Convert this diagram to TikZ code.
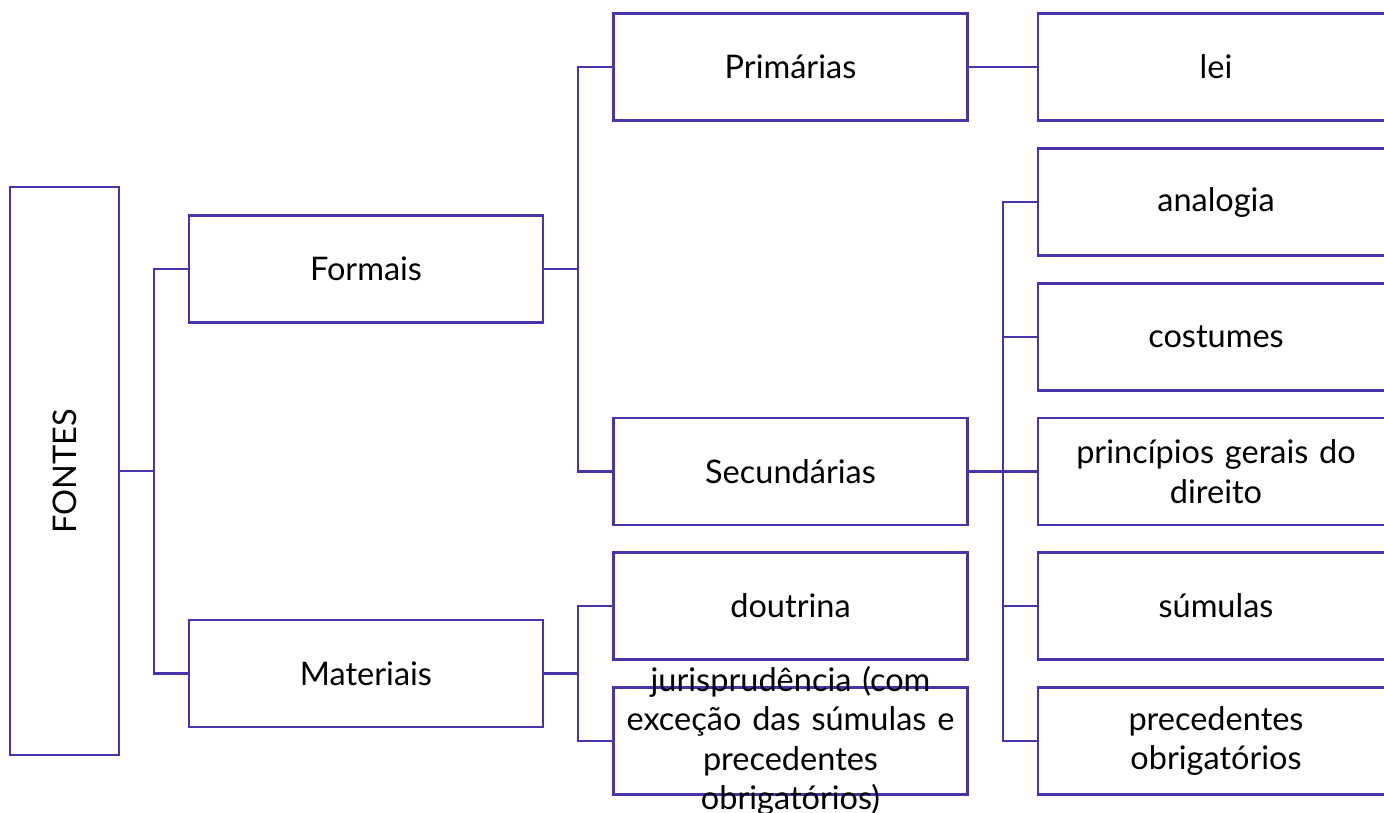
\documentclass[tikz,border=0pt]{standalone}
\usepackage{fontspec}
\setmainfont{Lato}
\definecolor{edge}{RGB}{72,52,170}
\begin{document}
\begin{tikzpicture}[x=1pt,y=-1pt,
  txt/.style={inner sep=0pt,align=center,text width=340pt,font=\fontsize{32.5}{39.5}\selectfont},
  box/.style={txt,draw=edge,line width=2.8pt,rectangle,minimum width=354pt,minimum height=107pt},
  rbox/.style={box,minimum width=356pt},
  conn/.style={draw=edge,line width=2.8pt}]
\useasboundingbox (0,0) rectangle (1384,813);
\node[box,minimum width=109pt,minimum height=568pt,text width=100pt] (fontes) at (64.5,471) {\rotatebox{90}{FONTES}};
\node[box] (formais) at (366,269) {Formais};
\node[box] (materiais) at (366,673.5) {Materiais};
\node[box] (prim) at (790.5,67) {Primárias};
\node[box] (sec) at (790.5,471.5) {Secundárias};
\node[box] (dout) at (790.5,606) {doutrina};
\node[box] (juris) at (790.5,741) {};
\node[txt] (juristxt) at (juris.center) {jurisprudência (com\\exceção das súmulas e\\precedentes\\obrigatórios)};
\node[rbox] (lei) at (1216,67) {lei};
\node[rbox] (anal) at (1216,202) {analogia};
\node[rbox] (cost) at (1216,337) {costumes};
\node[rbox] (princ) at (1216,471.5) {princípios gerais do\\direito};
\node[rbox] (sum) at (1216,606) {súmulas};
\node[rbox] (prec) at (1216,741) {precedentes\\obrigatórios};
\coordinate (j1) at (154,471);
\coordinate (j2) at (578,269);
\coordinate (j3) at (578,673.5);
\coordinate (j4) at (1003,471.5);
\draw[conn] (fontes.east) -- (j1) |- (formais.west);
\draw[conn] (j1) |- (materiais.west);
\draw[conn] (formais.east) -- (j2) |- (prim.west);
\draw[conn] (j2) |- (sec.west);
\draw[conn] (materiais.east) -- (j3) |- (dout.west);
\draw[conn] (j3) |- (juris.west);
\draw[conn] (prim.east) -- (lei.west);
\draw[conn] (sec.east) -- (j4) |- (anal.west);
\draw[conn] (j4) |- (cost.west);
\draw[conn] (j4) -- (princ.west);
\draw[conn] (j4) |- (sum.west);
\draw[conn] (j4) |- (prec.west);
\end{tikzpicture}
\end{document}
